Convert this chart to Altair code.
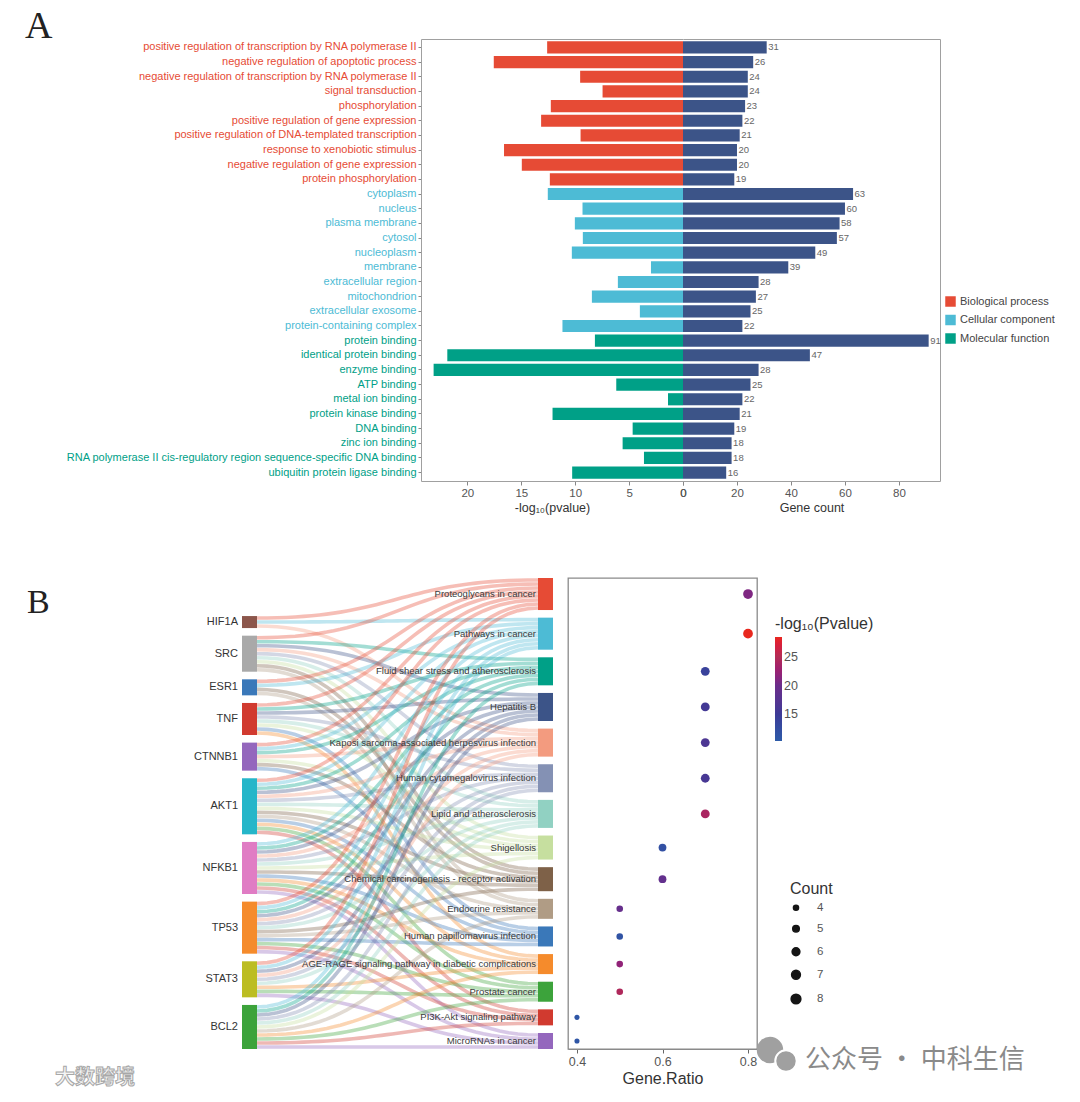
import json
import numpy as np
import pandas as pd
import altair as alt

FONT = "Liberation Sans"

# ---------------- Panel A data ----------------
terms = [
    "positive regulation of transcription by RNA polymerase II",
    "negative regulation of apoptotic process",
    "negative regulation of transcription by RNA polymerase II",
    "signal transduction",
    "phosphorylation",
    "positive regulation of gene expression",
    "positive regulation of DNA-templated transcription",
    "response to xenobiotic stimulus",
    "negative regulation of gene expression",
    "protein phosphorylation",
    "cytoplasm", "nucleus", "plasma membrane", "cytosol", "nucleoplasm", "membrane",
    "extracellular region", "mitochondrion", "extracellular exosome", "protein-containing complex",
    "protein binding", "identical protein binding", "enzyme binding", "ATP binding",
    "metal ion binding", "protein kinase binding", "DNA binding", "zinc ion binding",
    "RNA polymerase II cis-regulatory region sequence-specific DNA binding",
    "ubiquitin protein ligase binding",
]
categories = ["Biological process", "Cellular component", "Molecular function"]
cat_colors = ["#E64B35", "#4DBBD5", "#00A087"]
term_category = [categories[0]] * 10 + [categories[1]] * 10 + [categories[2]] * 10
neglog_p = [12.6, 17.55, 9.54, 7.46, 12.26, 13.16, 9.5, 16.6, 14.95, 12.35,
            12.54, 9.32, 10.03, 9.29, 10.31, 2.97, 6.04, 8.45, 4.0, 11.18,
            8.17, 21.86, 23.13, 6.19, 1.39, 12.1, 4.67, 5.6, 3.62, 10.28]
gene_counts = [31, 26, 24, 24, 23, 22, 21, 20, 20, 19,
               63, 60, 58, 57, 49, 39, 28, 27, 25, 22,
               91, 47, 28, 25, 22, 21, 19, 18, 18, 16]
count_color = "#3C5488"

# ---------------- Panel B data ----------------
genes = ["HIF1A", "SRC", "ESR1", "TNF", "CTNNB1", "AKT1", "NFKB1", "TP53", "STAT3", "BCL2"]
gene_colors = ["#8c564b", "#a9a9a9", "#3a78b9", "#d13a2f", "#9467bd",
               "#25b6c9", "#e07cc4", "#f58b2c", "#bcbd22", "#3ca33b"]
pathways = [
    "Proteoglycans in cancer", "Pathways in cancer", "Fluid shear stress and atherosclerosis",
    "Hepatitis B", "Kaposi sarcoma-associated herpesvirus infection",
    "Human cytomegalovirus infection", "Lipid and atherosclerosis", "Shigellosis",
    "Chemical carcinogenesis - receptor activation", "Endocrine resistance",
    "Human papillomavirus infection", "AGE-RAGE signaling pathway in diabetic complications",
    "Prostate cancer", "PI3K-Akt signaling pathway", "MicroRNAs in cancer",
]
pathway_colors = ["#E64B35", "#4DBBD5", "#00A087", "#3C5488", "#F39B7F", "#8491B4", "#91D1C2",
                  "#c6df9f", "#7E6148", "#B09C85", "#3a78b9", "#f58b2c", "#3ca33b", "#d13a2f", "#9467bd"]
pathway_genes = [
    ["HIF1A", "SRC", "ESR1", "TNF", "CTNNB1", "AKT1", "TP53", "STAT3"],
    ["HIF1A", "ESR1", "CTNNB1", "AKT1", "NFKB1", "TP53", "STAT3", "BCL2"],
    ["SRC", "TNF", "CTNNB1", "AKT1", "NFKB1", "TP53", "BCL2"],
    ["SRC", "TNF", "AKT1", "NFKB1", "TP53", "STAT3", "BCL2"],
    ["HIF1A", "SRC", "CTNNB1", "AKT1", "NFKB1", "TP53", "STAT3"],
    ["SRC", "TNF", "AKT1", "NFKB1", "TP53", "STAT3", "BCL2"],
    ["SRC", "TNF", "AKT1", "NFKB1", "TP53", "STAT3", "BCL2"],
    ["SRC", "TNF", "CTNNB1", "AKT1", "NFKB1", "BCL2"],
    ["SRC", "ESR1", "CTNNB1", "AKT1", "NFKB1", "TP53"],
    ["SRC", "ESR1", "AKT1", "TP53", "BCL2"],
    ["TNF", "CTNNB1", "AKT1", "NFKB1", "TP53"],
    ["TNF", "AKT1", "NFKB1", "STAT3", "BCL2"],
    ["AKT1", "NFKB1", "TP53", "STAT3", "BCL2"],
    ["AKT1", "NFKB1", "TP53", "BCL2"],
    ["NFKB1", "TP53", "STAT3", "BCL2"],
]
gene_ratio = [0.8, 0.8, 0.7, 0.7, 0.7, 0.7, 0.7, 0.6, 0.6, 0.5, 0.5, 0.5, 0.5, 0.4, 0.4]
neglog_pB = [21.0, 28.5, 14.0, 15.5, 16.5, 16.0, 24.0, 12.0, 19.0, 19.5, 11.5, 22.0, 24.5, 11.0, 11.0]

# ---------------- Panel A charts ----------------
dfA = pd.DataFrame({"term": terms, "category": term_category, "p": neglog_p, "count": gene_counts})
ysA = alt.Scale(domain=terms, paddingInner=0.17, paddingOuter=0.16)
cc_terms = [t for t, c in zip(terms, term_category) if c == categories[1]]
mf_terms = [t for t, c in zip(terms, term_category) if c == categories[2]]
label_color = {
    "condition": [
        {"test": f"indexof({json.dumps(cc_terms)}, datum.value) >= 0", "value": cat_colors[1]},
        {"test": f"indexof({json.dumps(mf_terms)}, datum.value) >= 0", "value": cat_colors[2]},
    ],
    "value": cat_colors[0],
}
FRAME = "#a0a0a0"
yL = alt.Y("term:N", sort=terms, scale=ysA,
           axis=alt.Axis(title=None, labelFontSize=11, labelColor=label_color, labelLimit=700,
                         tickSize=3, tickColor="#888", domainColor=FRAME, labelPadding=2))
xsL = alt.Scale(domain=[0, 24.3], reverse=True, nice=False, zero=False)
barsL = alt.Chart(dfA).mark_bar().encode(
    y=yL,
    x=alt.X("p:Q", scale=xsL,
            axis=alt.Axis(values=[0, 5, 10, 15, 20], title="-log₁₀(pvalue)", grid=False,
                          labelFontSize=11.5, labelColor="#555", tickColor="#888", tickSize=4,
                          labelFlush=False, domainColor=FRAME, titleFontSize=12.5, titleColor="#333",
                          titleFontWeight="normal", titlePadding=3)),
    color=alt.Color("category:N", scale=alt.Scale(domain=categories, range=cat_colors),
                    legend=alt.Legend(title=None, orient="none", legendX=524, legendY=257,
                                      symbolType="square", symbolSize=110, symbolStrokeWidth=0,
                                      labelFontSize=11, labelColor="#444", rowPadding=6.5)),
)
topL = alt.Chart(dfA).mark_bar(opacity=0).encode(
    y=yL,
    x=alt.X("p:Q", scale=xsL, axis=alt.Axis(orient="top", labels=False, ticks=False, title=None,
                                            grid=False, domainColor=FRAME)),
)
panelL = alt.layer(barsL, topL).resolve_axis(x="independent").properties(width=262, height=442)

yR = alt.Y("term:N", sort=terms, scale=ysA,
           axis=alt.Axis(orient="right", title=None, labels=False, ticks=False, domainColor=FRAME))
xsR = alt.Scale(domain=[0, 95.2], nice=False, zero=True)
barsR = alt.Chart(dfA).mark_bar(color=count_color).encode(
    y=yR,
    x=alt.X("count:Q", scale=xsR,
            axis=alt.Axis(values=[0, 20, 40, 60, 80], title="Gene count", grid=False,
                          labelFontSize=11.5, labelColor="#555", tickColor="#888", tickSize=4,
                          labelFlush=False, domainColor=FRAME, titleFontSize=12.5, titleColor="#333",
                          titleFontWeight="normal", titlePadding=3)),
)
textR = alt.Chart(dfA).mark_text(align="left", baseline="middle", dx=1.5, fontSize=9.5, color="#666").encode(
    y=yR,
    x=alt.X("count:Q", scale=xsR, axis=alt.Axis(orient="top", labels=False, ticks=False, title=None,
                                                grid=False, domainColor=FRAME)),
    text="count:Q",
)
panelR = alt.layer(barsR, textR).resolve_axis(x="independent").properties(width=257, height=442)

one = pd.DataFrame({"a": [0]})
labelA = alt.Chart(one).mark_text(text="A", font="Liberation Serif", fontSize=38, align="left",
                                  baseline="alphabetic", color="#222").encode(
    x=alt.value(17), y=alt.value(-1)).properties(width=413, height=442)

rowA = alt.hconcat(labelA, panelL, panelR, spacing=0, bounds="flush").resolve_scale(
    x="independent", y="independent", color="independent")

# ---------------- Panel B: sankey ----------------
GAP = 1.9
path_cnt = [len(g) for g in pathway_genes]
gene_cnt = [sum(g in pg for pg in pathway_genes) for g in genes]
total = sum(path_cnt) + (len(pathways) - 1) * GAP
r_top = np.cumsum([0] + path_cnt[:-1]) + np.arange(len(pathways)) * GAP
l_off = total - (sum(gene_cnt) + (len(genes) - 1) * GAP)
l_top = l_off + np.cumsum([0] + gene_cnt[:-1]) + np.arange(len(genes)) * GAP

SW = 311
NODE_W = 15
x0, x1 = NODE_W, SW - NODE_W
xm = (x0 + x1) / 2
ts = np.linspace(0, 1, 41)
rows = []
lid = 0
for j, g in enumerate(genes):
    k = 0
    for i in range(len(pathways)):
        if g in pathway_genes[i]:
            m = sorted(pathway_genes[i], key=genes.index).index(g)
            ya = l_top[j] + k + 0.5
            yb = r_top[i] + m + 0.5
            k += 1
            bx = x0 * (1 - ts) ** 3 + 3 * xm * (1 - ts) ** 2 * ts + 3 * xm * (1 - ts) * ts ** 2 + x1 * ts ** 3
            by = ya * ((1 - ts) ** 3 + 3 * (1 - ts) ** 2 * ts) + yb * (3 * (1 - ts) * ts ** 2 + ts ** 3)
            for t, xx, yy in zip(ts, bx, by):
                rows.append({"link": lid, "t": t, "x": xx, "y": yy, "color": pathway_colors[i]})
            lid += 1
links = pd.DataFrame(rows)

xsS = alt.Scale(domain=[0, SW], nice=False, zero=False)
ysB = alt.Scale(domain=[0, total], reverse=True, nice=False, zero=False)

gnodes = pd.DataFrame({"gene": genes, "top": l_top, "bot": l_top + np.array(gene_cnt),
                       "mid": l_top + np.array(gene_cnt) / 2, "color": gene_colors})
pnodes = pd.DataFrame({"pathway": pathways, "top": r_top, "bot": r_top + np.array(path_cnt),
                       "mid": r_top + np.array(path_cnt) / 2, "color": pathway_colors})

link_layer = alt.Chart(links).mark_line(strokeWidth=3.6, opacity=0.36, strokeCap="butt").encode(
    x=alt.X("x:Q", scale=xsS, axis=None),
    y=alt.Y("y:Q", scale=ysB, axis=None),
    detail="link:N",
    order="t:Q",
    color=alt.Color("color:N", scale=None),
)
gnode_layer = alt.Chart(gnodes).mark_rect().encode(
    x=alt.XDatum(0, scale=xsS, axis=None), x2=alt.X2Datum(NODE_W),
    y=alt.Y("top:Q", scale=ysB, axis=None), y2="bot:Q",
    color=alt.Color("color:N", scale=None),
)
pnode_layer = alt.Chart(pnodes).mark_rect().encode(
    x=alt.XDatum(SW - NODE_W, scale=xsS, axis=None), x2=alt.X2Datum(SW),
    y=alt.Y("top:Q", scale=ysB, axis=None), y2="bot:Q",
    color=alt.Color("color:N", scale=None),
)
glabel = alt.Chart(gnodes).mark_text(align="right", baseline="middle", fontSize=11, color="#333").encode(
    x=alt.value(-4), y=alt.Y("mid:Q", scale=ysB, axis=None), text="gene:N")
plabel = alt.Chart(pnodes).mark_text(align="right", baseline="middle", fontSize=9.5, color="#3a3a3a").encode(
    x=alt.value(SW - NODE_W - 2), y=alt.Y("mid:Q", scale=ysB, axis=None), text="pathway:N")
sankey = alt.layer(link_layer, gnode_layer, pnode_layer, glabel, plabel).properties(width=SW, height=471)

# ---------------- Panel B: dot plot ----------------
dfB = pd.DataFrame({"pathway": pathways, "ratio": gene_ratio, "count": path_cnt, "p": neglog_pB,
                    "yc": r_top + np.array(path_cnt) / 2})
dots = alt.Chart(dfB).mark_circle(opacity=1).encode(
    x=alt.X("ratio:Q", scale=alt.Scale(domain=[0.379, 0.821], nice=False, zero=False),
            axis=alt.Axis(values=[0.4, 0.6, 0.8], format=".1f", title="Gene.Ratio", grid=False,
                          labelFontSize=12.5, labelColor="#555", tickColor="#666", tickSize=4,
                          labelFlush=False, domainColor="#8a8a8a", titleFontSize=16, titleColor="#333",
                          titleFontWeight="normal", titlePadding=3)),
    y=alt.Y("yc:Q", scale=ysB, axis=None),
    color=alt.Color("p:Q",
                    scale=alt.Scale(domain=[10.3, 15, 20, 25, 28.5],
                                    range=["#2d5ba8", "#3d3a96", "#6a2d8a", "#b22d55", "#e8281e"]),
                    legend=alt.Legend(title="-log₁₀(Pvalue)", orient="none", legendX=207, legendY=38,
                                      direction="vertical", gradientLength=104, gradientThickness=7,
                                      values=[15, 20, 25], labelFontSize=12.5, labelColor="#555",
                                      titleFontSize=16, titleColor="#333", titleFontWeight="normal",
                                      gradientStrokeWidth=0)),
    size=alt.Size("count:Q", scale=alt.Scale(domain=[4, 8], range=[26, 95]),
                  legend=alt.Legend(title="Count", values=[4, 5, 6, 7, 8], orient="none",
                                    legendX=222, legendY=303, titleFontSize=16, titleColor="#333",
                                    titleFontWeight="normal", labelFontSize=11.5, labelColor="#555",
                                    symbolFillColor="#151515", symbolStrokeColor="#151515",
                                    symbolOpacity=1, rowPadding=8, labelOffset=15)),
)
wm_b1 = alt.Chart(one).mark_circle(color="#a0a0a0", opacity=1, size=700).encode(
    x=alt.value(202), y=alt.value(472))
wm_b2 = alt.Chart(one).mark_circle(fill="#a0a0a0", stroke="white", strokeWidth=2, opacity=1, size=460).encode(
    x=alt.value(218), y=alt.value(483))
wm_text = alt.Chart(one).mark_text(text="公众号 · 中科生信", font="Noto Sans CJK SC", fontSize=26,
                                   align="left", baseline="alphabetic", color="#8a8a8a").encode(
    x=alt.value(237), y=alt.value(490))
dotplot = alt.layer(dots, wm_b1, wm_b2, wm_text).properties(
    width=189, height=471, view=alt.ViewBackground(stroke="#8a8a8a", strokeWidth=1.3))

labelB = alt.layer(
    alt.Chart(one).mark_text(text="B", font="Liberation Serif", fontSize=34, align="left",
                             baseline="alphabetic", color="#222").encode(x=alt.value(19), y=alt.value(35)),
    alt.Chart(one).mark_text(text="大数跨境", font="Noto Sans CJK SC", fontSize=20, fontWeight="bold",
                             align="left", baseline="alphabetic", fill="#f4f4f4", stroke="#a8a8a8",
                             strokeWidth=1).encode(x=alt.value(47), y=alt.value(506)),
).properties(width=219, height=471)

rowB = alt.hconcat(labelB, sankey, dotplot, spacing=15, bounds="flush").resolve_scale(
    x="independent", y="independent", color="independent", size="independent")

chart = alt.vconcat(rowA, rowB, spacing=58).resolve_scale(
    color="independent", size="independent").properties(padding=0, background="white").configure(
    font=FONT).configure_view(stroke=None)

chart.save("out.html", embed_options={"renderer": "svg", "actions": False})
